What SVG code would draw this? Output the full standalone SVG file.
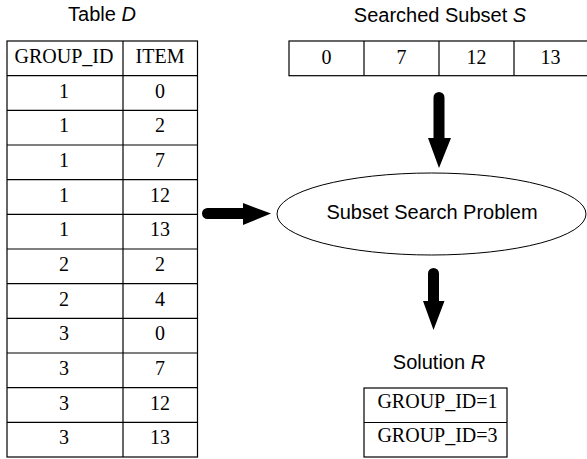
<svg xmlns="http://www.w3.org/2000/svg" width="587" height="459" viewBox="0 0 587 459">
<style>
.cell{fill:#fff;stroke:#000;stroke-width:1.2}
.ln{stroke:#000;stroke-width:1.2}
.t{font-family:"Liberation Serif","Times New Roman",serif;font-size:20px;fill:#000;text-anchor:middle}
.s{font-family:"Liberation Sans",Arial,sans-serif;font-size:20px;fill:#000;text-anchor:middle}
.arrow{fill:#000;stroke:none}
</style>
<rect width="587" height="459" fill="#fff"/>
<g id="tableD">
<text class="s" x="102" y="21">Table <tspan font-style="italic">D</tspan></text>
<rect class="cell" x="7" y="41" width="190.5" height="416"/>
<line class="ln" x1="123" y1="41" x2="123" y2="457"/>
<g class="ln">
<line x1="7" y1="75.7" x2="197.5" y2="75.7"/>
<line x1="7" y1="110.3" x2="197.5" y2="110.3"/>
<line x1="7" y1="145" x2="197.5" y2="145"/>
<line x1="7" y1="179.7" x2="197.5" y2="179.7"/>
<line x1="7" y1="214.3" x2="197.5" y2="214.3"/>
<line x1="7" y1="249" x2="197.5" y2="249"/>
<line x1="7" y1="283.7" x2="197.5" y2="283.7"/>
<line x1="7" y1="318.3" x2="197.5" y2="318.3"/>
<line x1="7" y1="353" x2="197.5" y2="353"/>
<line x1="7" y1="387.7" x2="197.5" y2="387.7"/>
<line x1="7" y1="422.3" x2="197.5" y2="422.3"/>
</g>
<g class="t">
<text x="64" y="63">GROUP_ID</text><text x="160" y="63">ITEM</text>
<text x="64" y="97.5">1</text><text x="160" y="97.5">0</text>
<text x="64" y="132.2">1</text><text x="160" y="132.2">2</text>
<text x="64" y="166.8">1</text><text x="160" y="166.8">7</text>
<text x="64" y="201.5">1</text><text x="160" y="201.5">12</text>
<text x="64" y="236.2">1</text><text x="160" y="236.2">13</text>
<text x="64" y="270.8">2</text><text x="160" y="270.8">2</text>
<text x="64" y="305.5">2</text><text x="160" y="305.5">4</text>
<text x="64" y="340.2">3</text><text x="160" y="340.2">0</text>
<text x="64" y="374.8">3</text><text x="160" y="374.8">7</text>
<text x="64" y="409.5">3</text><text x="160" y="409.5">12</text>
<text x="64" y="444.2">3</text><text x="160" y="444.2">13</text>
</g>
</g>
<g id="subsetS">
<text class="s" x="440" y="21.5">Searched Subset <tspan font-style="italic">S</tspan></text>
<rect class="cell" x="289" y="41" width="300" height="34.7"/>
<line class="ln" x1="364" y1="41" x2="364" y2="75.7"/>
<line class="ln" x1="439" y1="41" x2="439" y2="75.7"/>
<line class="ln" x1="514" y1="41" x2="514" y2="75.7"/>
<g class="t">
<text x="326.5" y="63.5">0</text>
<text x="401.5" y="63.5">7</text>
<text x="476.5" y="63.5">12</text>
<text x="550.5" y="63.5">13</text>
</g>
</g>
<g id="problem">
<ellipse cx="431.5" cy="214" rx="154.5" ry="41" fill="#fff" stroke="#000" stroke-width="1"/>
<text class="s" x="432" y="218.5">Subset Search Problem</text>
</g>
<g id="solutionR">
<text class="s" x="439" y="369">Solution <tspan font-style="italic">R</tspan></text>
<rect class="cell" x="364" y="388" width="143" height="69"/>
<line class="ln" x1="364" y1="422.5" x2="507" y2="422.5"/>
<text class="t" x="437.5" y="407.5">GROUP_ID=1</text>
<text class="t" x="437.5" y="442">GROUP_ID=3</text>
</g>
<g id="connectors">
<path class="arrow" d="M433.5,138 V97.5 A5.5,5.5 0 0 1 444.5,97.5 V138 H451 L439,168 L428,138 Z"/>
<path class="arrow" d="M428,301 V273.5 A5.5,5.5 0 0 1 439,273.5 V301 H444.5 L433.5,330 L423,301 Z"/>
<path class="arrow" d="M243,208 H207.5 A5.5,5.5 0 0 0 207.5,219 H243 V225 L271,213.5 L243,203 Z"/>
</g>
</svg>
